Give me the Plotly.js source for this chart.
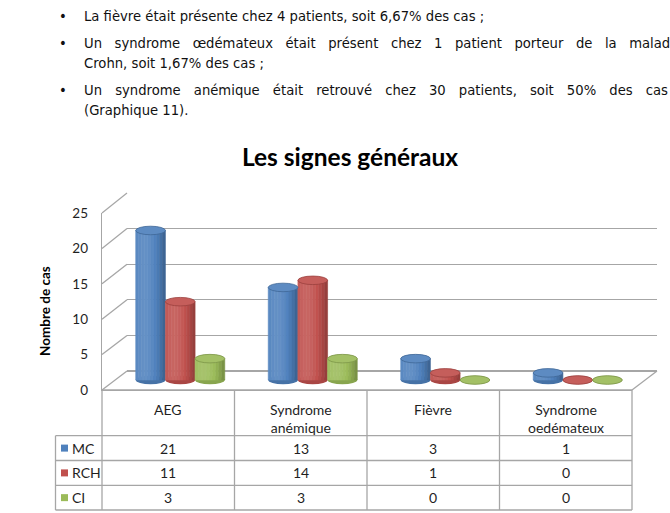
<!DOCTYPE html>
<html><head><meta charset="utf-8">
<script src="https://cdn.plot.ly/plotly-3.0.1.min.js"></script>
<style>
html,body{margin:0;padding:0;overflow:hidden;background:#fff;width:670px;height:513px;}
#chart{position:absolute;left:0;top:0;width:670px;height:513px;}
#para{position:absolute;left:0;top:0;width:670px;height:125px;overflow:hidden;font-family:"DejaVu Sans","Noto Sans",sans-serif;font-size:13.2px;color:#111;pointer-events:none;}
.ln{position:absolute;left:84px;white-space:nowrap;line-height:16px;}
.j{text-align:justify;text-align-last:justify;white-space:normal;}
.b{position:absolute;left:59px;line-height:16px;}
</style></head><body>
<div id="chart"></div>
<div id="para">
  <div class="b" style="top:9px">•</div>
  <div class="ln" style="top:9px">La fièvre était présente chez 4 patients, soit 6,67% des cas ;</div>
  <div class="b" style="top:36px">•</div>
  <div class="ln j" style="top:36px;width:598px">Un syndrome œdémateux était présent chez 1 patient porteur de la maladie</div>
  <div class="ln" style="top:56px">Crohn, soit 1,67% des cas ;</div>
  <div class="b" style="top:83px">•</div>
  <div class="ln j" style="top:83px;width:584px">Un syndrome anémique était retrouvé chez 30 patients, soit 50% des cas</div>
  <div class="ln" style="top:103px">(Graphique 11).</div>
</div>
<script>
// ---- data ----
const categories = ['AEG', 'Syndrome<br>anémique', 'Fièvre', 'Syndrome<br>oedémateux'];
const seriesNames = ['MC', 'RCH', 'CI'];
const mc  = [21, 13, 3, 1];
const rch = [11, 14, 1, 0];
const ci  = [3, 3, 0, 0];
const yTicks = [0, 5, 10, 15, 20, 25];
const titleText = 'Les signes généraux';
const yTitle = 'Nombre de cas';

// ---- style / geometry ----
const values = [mc, rch, ci];
const colors = ['#4f81bd', '#c0504d', '#9bbb59'];
const W = 670, H = 513;
const px = v => v / W, py = v => 1 - v / H;
const frontL = 102, frontR = 632, frontB = 390, frontT = 213;
const backL = 127, backR = 657, backB = 371, backT = 193;
const barL = 114, barR = 644, bar0 = 380, ppu = 7.12;
const yMin = -1.5, yMax = 26;
const gridCol = '#a6a6a6';
const FONT = 'Lato, "Open Sans", sans-serif';
const TXT = '#1f1f1f';

function hexToRgb(h){h=h.replace('#','');return [0,2,4].map(i=>parseInt(h.substr(i,2),16));}
function shade(hex,f){
  const c=hexToRgb(hex);
  const r=c.map(v=> f>=1 ? v+(255-v)*(f-1) : v*f);
  return 'rgb('+r.map(v=>Math.round(Math.max(0,Math.min(255,v)))).join(',')+')';
}

const bw = 0.224, N = 10, eh = 0.6;
const offs = [-bw, 0, bw];
const traces = [
  {type:'scatter', x:[], y:[], xaxis:'x', yaxis:'y', showlegend:false, hoverinfo:'skip'},
  {type:'scatter', x:[], y:[], xaxis:'x2', yaxis:'y2', showlegend:false, hoverinfo:'skip'}
];
const shapes = [];
values.forEach((vals, s) => {
  for (let j = 0; j < N; j++) {
    const t = (j + 0.5) / N;
    const f = 0.72 + 0.4 * Math.cos(Math.PI * (t - 0.3) / 1.45);
    const col = shade(colors[s], f);
    traces.push({
      type:'bar', name: seriesNames[s], showlegend:false,
      x: vals.map((v, i) => i + offs[s] - bw/2 + (j + 0.5) * bw / N),
      y: vals, width: bw / N, xaxis:'x3', yaxis:'y3',
      marker:{color: col, line:{width:0.6, color: col}},
      hoverinfo:'y+name'
    });
  }
  vals.forEach((v, i) => {
    const x0 = i + offs[s] - bw/2, x1 = i + offs[s] + bw/2;
    shapes.push({type:'circle', xref:'x3', yref:'y3', x0, x1, y0:-eh, y1:eh,
      fillcolor: shade(colors[s], 0.88), line:{width:0}, layer:'below'});
    shapes.push({type:'circle', xref:'x3', yref:'y3', x0, x1, y0:v-eh, y1:v+eh,
      fillcolor: shade(colors[s], 1.08), line:{width:0.8, color: shade(colors[s], 0.8)}, layer:'above'});
  });
});

// perspective lines of the left wall & floor
const fY = v => frontB - v * (frontB - frontT) / 25;
const bY = v => backB - v * (backB - backT) / 25;
yTicks.forEach(v => {
  shapes.push({type:'line', xref:'paper', yref:'paper', x0:px(frontL), y0:py(fY(v)), x1:px(backL), y1:py(bY(v)),
    line:{color:gridCol, width:1.3}});
});
shapes.push({type:'line', xref:'paper', yref:'paper', x0:px(frontR), y0:py(frontB), x1:px(backR), y1:py(backB),
  line:{color:gridCol, width:1.3}});

// data table
const colW = (frontR - frontL) / categories.length;
const rowLines = [435.7, 460.5, 485.3, 510];
const tableL = 55.5;
const annotations = [];
for (let k = 0; k <= categories.length; k++) {
  const x = frontL + k * colW;
  shapes.push({type:'line', xref:'paper', yref:'paper', x0:px(x), x1:px(x), y0:py(frontB), y1:py(rowLines[3]),
    line:{color:gridCol, width:1.3}});
}
shapes.push({type:'line', xref:'paper', yref:'paper', x0:px(tableL), x1:px(tableL), y0:py(rowLines[0]), y1:py(rowLines[3]),
  line:{color:gridCol, width:1.3}});
rowLines.forEach(y => shapes.push({type:'line', xref:'paper', yref:'paper', x0:px(tableL), x1:px(frontR), y0:py(y), y1:py(y),
  line:{color:gridCol, width:1.3}}));
shapes.push({type:'line', xref:'paper', yref:'paper', x0:px(frontL), x1:px(frontR), y0:py(frontB), y1:py(frontB),
  line:{color:gridCol, width:1.3}});

categories.forEach((c, i) => {
  annotations.push({text:c, xref:'paper', yref:'paper', x:px(frontL + (i + 0.5) * colW), y:py(399),
    xanchor:'center', yanchor:'top', showarrow:false, font:{family:FONT, size:14, color:TXT}});
});
values.forEach((vals, s) => {
  const yc = (rowLines[s] + rowLines[s + 1]) / 2;
  vals.forEach((v, i) => {
    annotations.push({text:String(v), xref:'paper', yref:'paper', x:px(frontL + (i + 0.5) * colW), y:py(yc),
      xanchor:'center', yanchor:'middle', showarrow:false, font:{family:FONT, size:14, color:TXT}});
  });
  shapes.push({type:'rect', xref:'paper', yref:'paper', x0:px(61), x1:px(68), y0:py(yc - 3.5), y1:py(yc + 3.5),
    fillcolor: colors[s], line:{width:0}});
  annotations.push({text:seriesNames[s], xref:'paper', yref:'paper', x:px(70), y:py(yc),
    xanchor:'left', yanchor:'middle', showarrow:false, font:{family:FONT, size:14, color:TXT}});
});

annotations.push({text:'<b>' + yTitle + '</b>', xref:'paper', yref:'paper', x:px(45), y:py(311), textangle:-90,
  xanchor:'center', yanchor:'middle', showarrow:false, font:{family:FONT, size:13.5, color:'#000'}});

const layout = {
  width: W, height: H, margin:{l:0, r:0, t:0, b:0}, paper_bgcolor:'#fff', plot_bgcolor:'rgba(0,0,0,0)',
  showlegend:false, barmode:'overlay',
  title:{text:'<b>' + titleText + '</b>', x:px(350), xanchor:'center', y:py(157), yanchor:'middle',
    xref:'paper', yref:'paper', font:{family:FONT, size:24.5, color:'#000'}},
  xaxis:{domain:[px(backL), px(backR)], range:[0,1], visible:false, anchor:'y', fixedrange:true},
  yaxis:{domain:[py(backB), py(backT)], range:[0,25], anchor:'x', tickvals:yTicks, showticklabels:false, ticks:'',
    showgrid:true, gridcolor:gridCol, gridwidth:1.3, zeroline:true, zerolinecolor:gridCol, zerolinewidth:1.3, showline:false, fixedrange:true},
  xaxis2:{domain:[px(frontL), px(frontR)], range:[0,1], anchor:'y2', showline:true, linecolor:gridCol, linewidth:1.3,
    showticklabels:false, ticks:'', showgrid:false, zeroline:false, fixedrange:true},
  yaxis2:{domain:[py(frontB), py(frontT)], range:[0,25], anchor:'x2', tickvals:yTicks, showline:true, linecolor:gridCol, linewidth:1.3,
    showgrid:false, zeroline:false, ticks:'', ticklabelstandoff:10, tickfont:{family:FONT, size:13.5, color:TXT}, fixedrange:true},
  xaxis3:{domain:[px(barL), px(barR)], range:[-0.5, 3.5], visible:false, anchor:'y3', fixedrange:true},
  yaxis3:{domain:[py(bar0 - yMin * ppu), py(bar0 - yMax * ppu)], range:[yMin, yMax], visible:false, anchor:'x3', fixedrange:true},
  shapes, annotations
};
Plotly.newPlot('chart', traces, layout, {displayModeBar:false, staticPlot:true});
</script>
</body></html>
